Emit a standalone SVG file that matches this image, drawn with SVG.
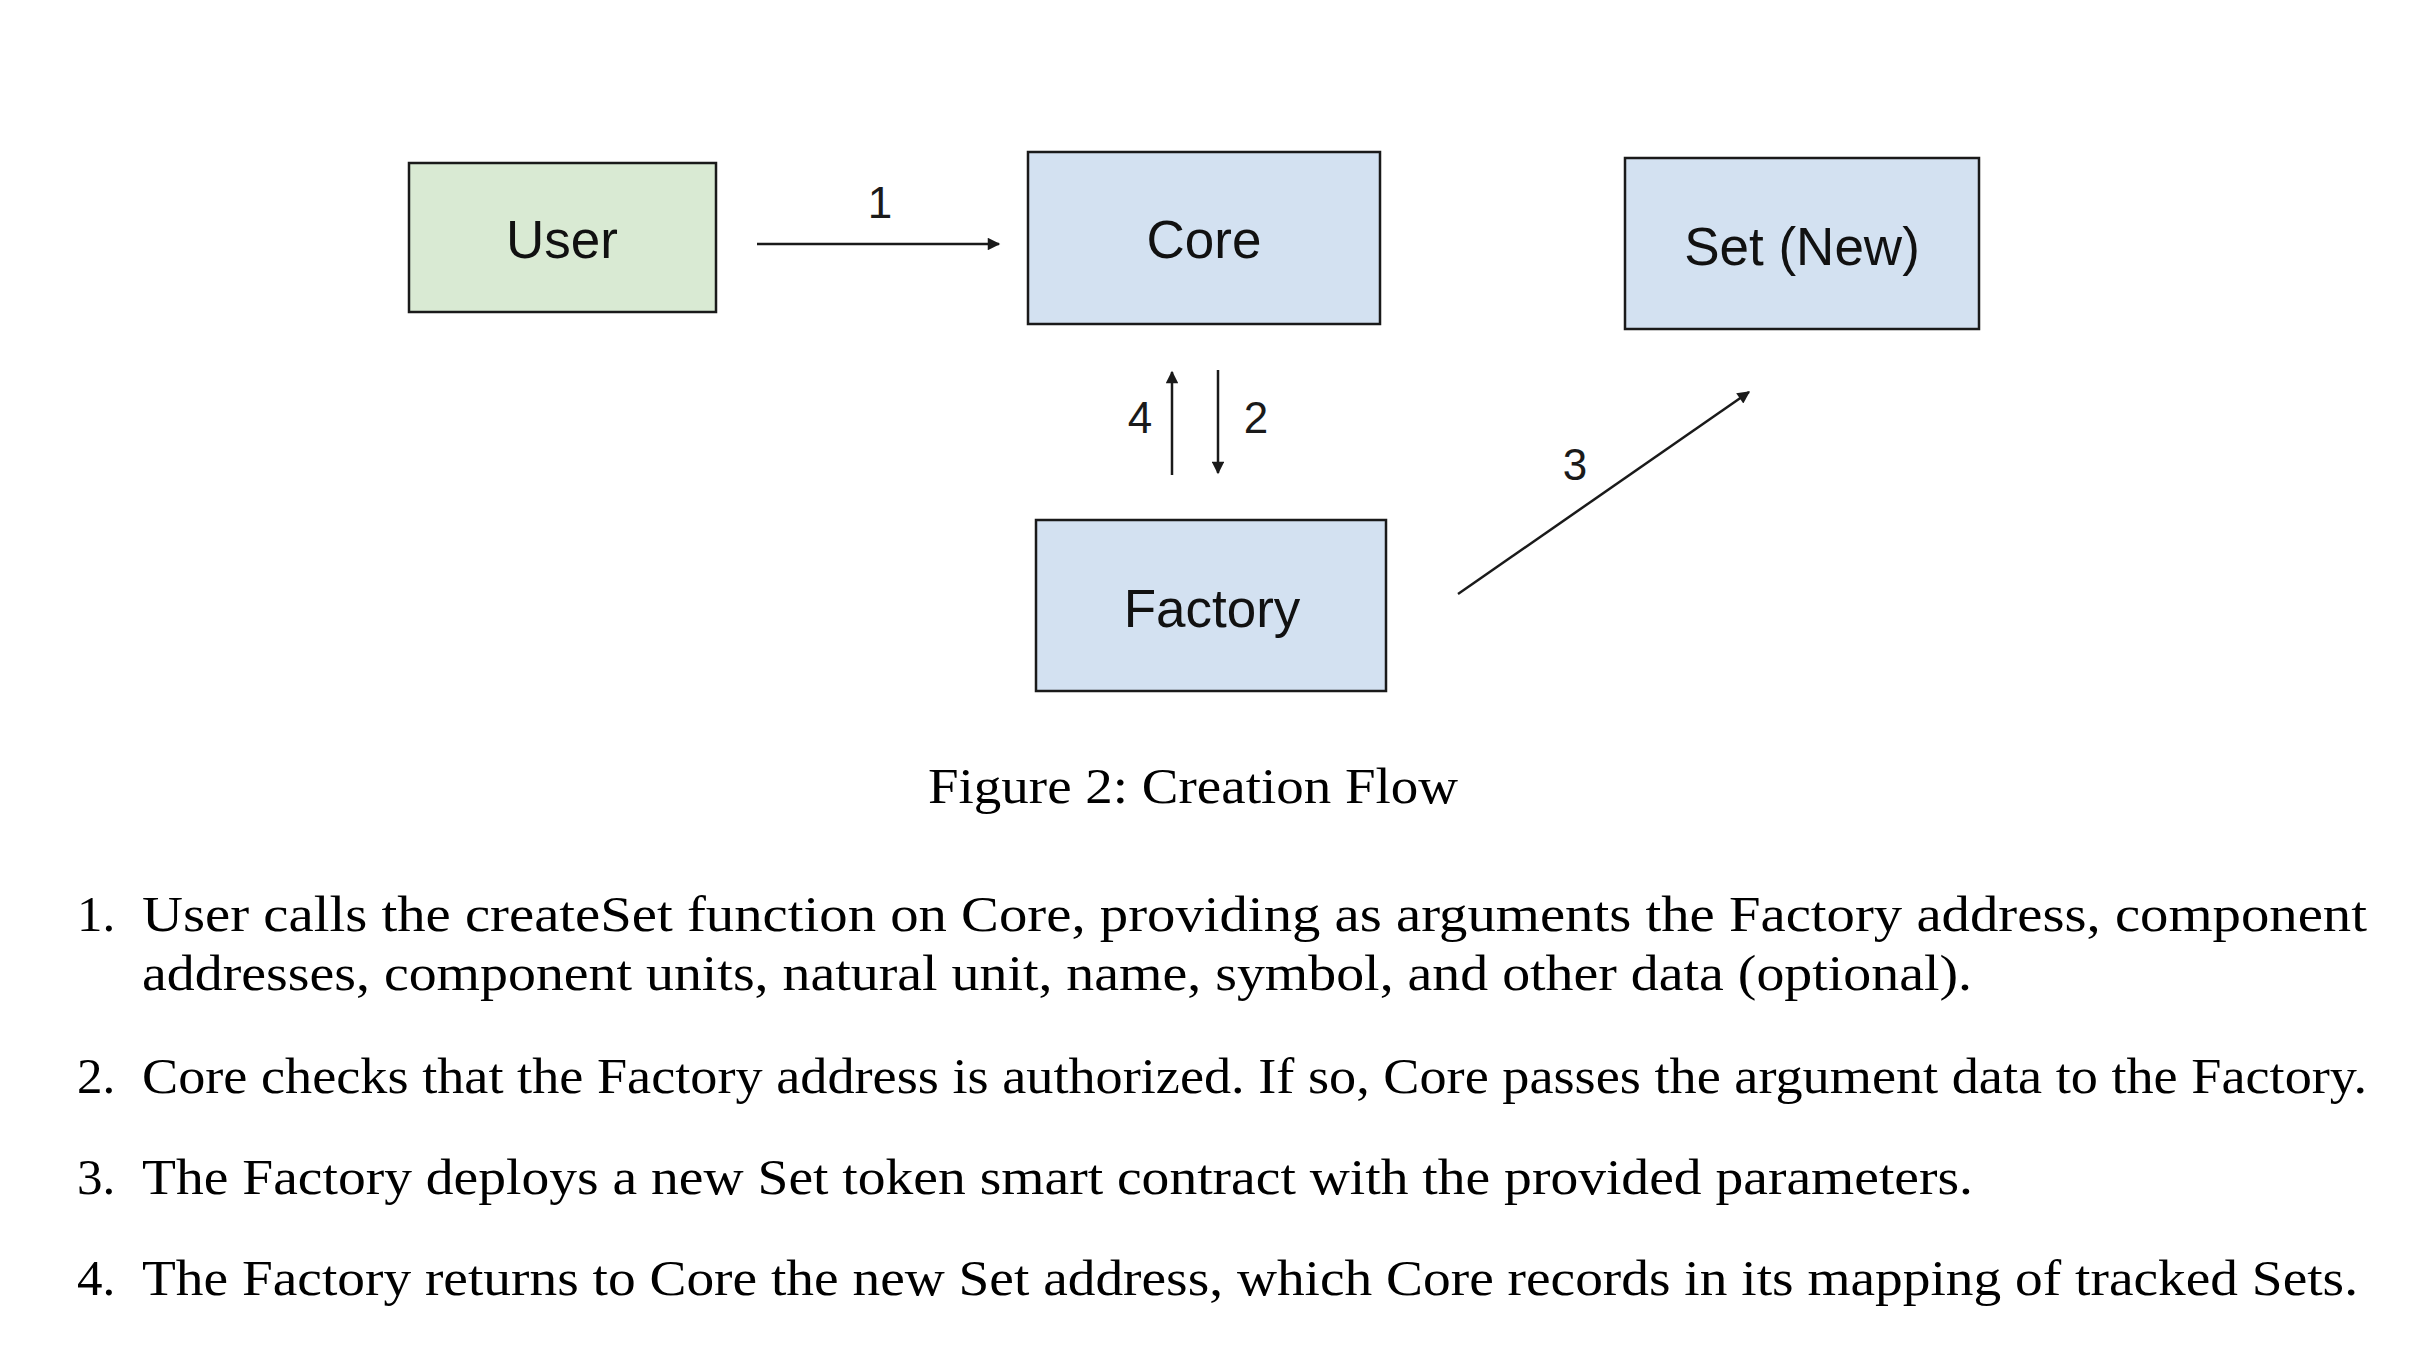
<svg xmlns="http://www.w3.org/2000/svg" width="2410" height="1366" viewBox="0 0 2410 1366">
<style>
.box{stroke:#1a1a1a;stroke-width:2.5}
.green{fill:#d9ead3}
.blue{fill:#d3e1f1}
.lbl{font-family:"Liberation Sans",Arial,sans-serif;font-size:53px;fill:#111;text-anchor:middle}
.num{font-family:"Liberation Sans",Arial,sans-serif;font-size:44px;fill:#1a1a1a;text-anchor:middle}
.conn{stroke:#1a1a1a;stroke-width:2.5;fill:none;marker-end:url(#ah)}
.body{font-family:"Liberation Serif","Times New Roman",serif;font-size:51px;fill:#000}
</style>
<defs>
<marker id="ah" viewBox="0 0 10 10" refX="9" refY="5" markerWidth="6" markerHeight="5" orient="auto" markerUnits="strokeWidth">
<path d="M0,0 L10,5 L0,10 z" fill="#1a1a1a"/>
</marker>
</defs>
<rect width="2410" height="1366" fill="#ffffff"/>
<g id="user">
<rect class="box green" x="409" y="163" width="307" height="149"/>
<text class="lbl" x="562" y="258">User</text>
</g>
<g id="core">
<rect class="box blue" x="1028" y="152" width="352" height="172"/>
<text class="lbl" x="1204" y="258">Core</text>
</g>
<g id="set-new">
<rect class="box blue" x="1625" y="158" width="354" height="171"/>
<text class="lbl" x="1802" y="265">Set (New)</text>
</g>
<g id="factory">
<rect class="box blue" x="1036" y="520" width="350" height="171"/>
<text class="lbl" x="1212" y="627">Factory</text>
</g>
<g id="connectors">
<line class="conn" x1="757" y1="244" x2="999" y2="244"/>
<text class="num" x="880" y="218">1</text>
<line class="conn" x1="1218" y1="370" x2="1218" y2="473"/>
<text class="num" x="1256" y="433">2</text>
<line class="conn" x1="1458" y1="594" x2="1749" y2="392"/>
<text class="num" x="1575" y="480">3</text>
<line class="conn" x1="1172" y1="475" x2="1172" y2="372"/>
<text class="num" x="1140" y="433">4</text>
</g>
<g id="caption">
<text class="body" x="928" y="803" textLength="530" lengthAdjust="spacingAndGlyphs">Figure 2:  Creation Flow</text>
</g>
<g id="list">
<text class="body" x="77" y="931">1.</text>
<text class="body" x="142" y="931" textLength="2225" lengthAdjust="spacingAndGlyphs">User calls the createSet function on Core, providing as arguments the Factory address, component</text>
<text class="body" x="142" y="990" textLength="1830" lengthAdjust="spacingAndGlyphs">addresses, component units, natural unit, name, symbol, and other data (optional).</text>
<text class="body" x="77" y="1093">2.</text>
<text class="body" x="142" y="1093" textLength="2225" lengthAdjust="spacingAndGlyphs">Core checks that the Factory address is authorized.  If so, Core passes the argument data to the Factory.</text>
<text class="body" x="77" y="1194">3.</text>
<text class="body" x="142" y="1194" textLength="1831" lengthAdjust="spacingAndGlyphs">The Factory deploys a new Set token smart contract with the provided parameters.</text>
<text class="body" x="77" y="1295">4.</text>
<text class="body" x="142" y="1295" textLength="2216" lengthAdjust="spacingAndGlyphs">The Factory returns to Core the new Set address, which Core records in its mapping of tracked Sets.</text>
</g>
</svg>
